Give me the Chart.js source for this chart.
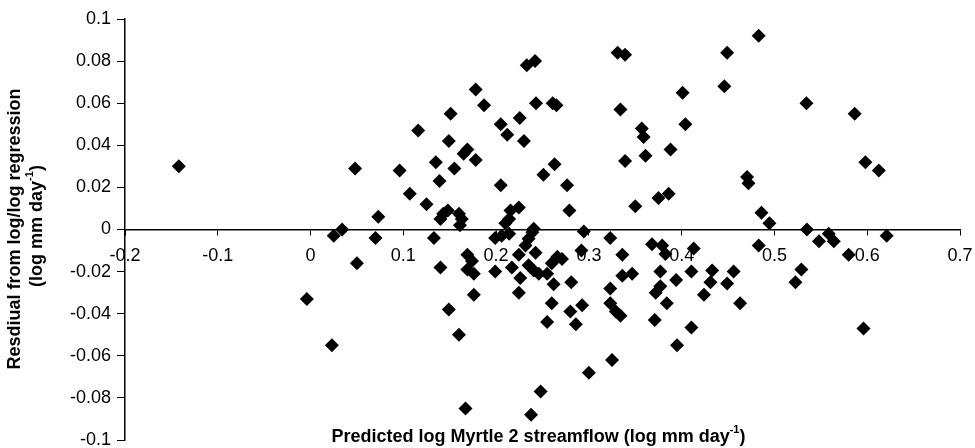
<!DOCTYPE html>
<html>
<head>
<meta charset="utf-8">
<script src="https://cdn.jsdelivr.net/npm/chart.js@4/dist/chart.umd.min.js"></script>
<style>
  html, body { margin: 0; padding: 0; background: #fff; }
  #wrap { width: 975px; height: 448px; }
</style>
</head>
<body>
<div id="wrap"><canvas id="my_chart"></canvas></div>
<script>
// predicted log streamflow (x) and residual (y)
var predicted = [
  -0.142, -0.004, 0.023, 0.025, 0.034, 0.048, 0.050, 0.070, 0.073, 0.096,
  0.107, 0.116, 0.125, 0.133, 0.135, 0.139, 0.140, 0.140, 0.143, 0.148,
  0.149, 0.149, 0.151, 0.155, 0.160, 0.160, 0.161, 0.163, 0.165, 0.167,
  0.169, 0.169, 0.169, 0.174, 0.176, 0.176, 0.178, 0.178, 0.187, 0.199,
  0.199, 0.205, 0.205, 0.206, 0.210, 0.212, 0.214, 0.214, 0.2155, 0.217,
  0.2245, 0.2245, 0.2245, 0.2255, 0.226, 0.230, 0.2317, 0.233, 0.235, 0.235,
  0.2377, 0.239, 0.2406, 0.2406, 0.242, 0.2425, 0.243, 0.246, 0.248, 0.251,
  0.255, 0.255, 0.260, 0.260, 0.261, 0.262, 0.263, 0.265, 0.266, 0.271,
  0.2765, 0.279, 0.280, 0.281, 0.286, 0.292, 0.2927, 0.2945, 0.300, 0.323,
  0.323, 0.323, 0.325, 0.329, 0.331, 0.334, 0.334, 0.336, 0.336, 0.339,
  0.339, 0.3466, 0.350, 0.357, 0.359, 0.361, 0.368, 0.371, 0.372, 0.375,
  0.377, 0.377, 0.379, 0.3825, 0.384, 0.386, 0.388, 0.394, 0.395, 0.401,
  0.404, 0.4105, 0.4105, 0.413, 0.424, 0.431, 0.4328, 0.446, 0.449, 0.449,
  0.456, 0.463, 0.4705, 0.472, 0.483, 0.483, 0.486, 0.4946, 0.5226, 0.529,
  0.5345, 0.535, 0.548, 0.5585, 0.564, 0.580, 0.5865, 0.596, 0.598, 0.6125,
  0.621
];
var residual = [
  0.030, -0.033, -0.055, -0.003, 0.000, 0.029, -0.016, -0.004, 0.006, 0.028,
  0.017, 0.047, 0.012, -0.004, 0.032, 0.023, 0.005, -0.018, 0.0075, 0.009,
  0.042, -0.038, 0.055, 0.029, 0.0075, -0.050, 0.002, 0.005, 0.036, -0.085,
  0.038, -0.012, -0.019, -0.015, -0.021, -0.031, 0.0665, 0.033, 0.059, -0.004,
  -0.020, 0.050, 0.021, -0.003, 0.003, 0.045, 0.005, -0.002, 0.009, -0.018,
  0.0105, -0.012, -0.030, 0.053, -0.023, 0.042, -0.0076, 0.078, -0.0044, -0.017,
  -0.088, -0.0013, 0.0003, -0.0195, 0.080, -0.011, 0.060, -0.021, -0.077, 0.026,
  -0.044, -0.021, -0.016, -0.035, 0.060, -0.026, 0.031, 0.059, -0.013, -0.014,
  0.021, 0.009, -0.039, -0.025, -0.045, -0.010, -0.036, -0.001, -0.068, -0.004,
  -0.028, -0.035, -0.062, -0.039, 0.084, 0.057, -0.041, -0.012, -0.022, 0.083,
  0.0325, -0.021, 0.011, 0.048, 0.044, 0.035, -0.007, -0.043, -0.030, 0.015,
  -0.020, -0.027, -0.0076, -0.0116, -0.035, 0.017, 0.038, -0.024, -0.055, 0.065,
  0.050, -0.020, -0.0465, -0.009, -0.031, -0.025, -0.0195, 0.068, 0.084, -0.0256,
  -0.020, -0.035, 0.025, 0.022, 0.092, -0.0076, 0.008, 0.003, -0.025, -0.019,
  0.060, 0.000, -0.0056, -0.002, -0.0056, -0.012, 0.055, -0.047, 0.032, 0.028,
  -0.003
];

var xTitle = 'Predicted log Myrtle 2 streamflow (log mm day';
var yTitle1 = 'Resdiual from log/log regression';
var yTitle2 = '(log mm day';
var supText = '-1';

var FONT = '"Liberation Sans", Arial, Helvetica, sans-serif';

var points = predicted.map(function (x, i) { return { x: x, y: residual[i] }; });

// axis titles with a real superscript, placed like the original
const titlesPlugin = {
  id: 'titles',
  afterDraw(chart) {
    const c = chart.ctx;
    const ca = chart.chartArea;
    const big = 'bold 18px ' + FONT;
    const small = 'bold 11px ' + FONT;

    function drawWithSup(main, cx, cy) {
      c.font = big;
      const w1 = c.measureText(main).width;
      c.font = small;
      const w2 = c.measureText(supText).width;
      c.font = big;
      const w3 = c.measureText(')').width;
      let x = cx - (w1 + w2 + w3) / 2;
      c.textAlign = 'left';
      c.textBaseline = 'middle';
      c.font = big;
      c.fillText(main, x, cy);
      x += w1;
      c.font = small;
      c.fillText(supText, x, cy - 7);
      x += w2;
      c.font = big;
      c.fillText(')', x, cy);
    }

    c.save();
    c.fillStyle = '#000';
    drawWithSup(xTitle, (ca.left + ca.right) / 2 - 4, 437);

    c.save();
    c.translate(15, 229);
    c.rotate(-Math.PI / 2);
    c.font = big;
    c.textAlign = 'center';
    c.textBaseline = 'middle';
    c.fillText(yTitle1, 0, 0);
    c.restore();

    c.save();
    c.translate(37, 226);
    c.rotate(-Math.PI / 2);
    drawWithSup(yTitle2, 0, 0);
    c.restore();
    c.restore();
  }
};

const tickFont = { family: FONT, size: 18 };

const scales = {
  x: {
    type: 'linear',
    position: { y: 0 },
    min: -0.2,
    max: 0.7,
    ticks: {
      stepSize: 0.1, color: '#000', font: tickFont, padding: 11,
      callback: function (v) { return String(Number(v.toFixed(1))); }
    },
    grid: { drawOnChartArea: false, drawTicks: true, tickLength: 5, color: '#000' },
    border: { color: '#000', width: 1.5 },
    afterFit: function (s) { s.paddingLeft = 0; s.paddingRight = 0; }
  },
  y: {
    position: 'left',
    min: -0.1,
    max: 0.1,
    ticks: {
      stepSize: 0.02, color: '#000', font: tickFont, padding: 6,
      callback: function (v) { return String(Number(v.toFixed(2))); }
    },
    grid: { drawOnChartArea: false, drawTicks: true, tickLength: 8, color: '#000' },
    border: { color: '#000', width: 1.5 },
    afterFit: function (s) { s.width = 125; s.paddingTop = 0; s.paddingBottom = 0; }
  }
};

ctx = document.getElementById('my_chart').getContext('2d');
my_chart = new Chart(ctx, {
  type: 'scatter',
  data: {
    datasets: [
      {
        label: 'Residual',
        data: points,
        pointStyle: 'rectRot',
        pointRadius: 7,
        pointBackgroundColor: '#000',
        pointBorderColor: '#000',
        pointBorderWidth: 0
      }
    ]
  },
  options: {
    responsive: true,
    maintainAspectRatio: false,
    animation: false,
    layout: { padding: { left: 0, top: 19, right: 15, bottom: 8 } },
    scales: scales,
    plugins: {
      legend: { display: false },
      tooltip: { enabled: false }
    }
  },
  plugins: [titlesPlugin]
});
</script>
</body>
</html>
